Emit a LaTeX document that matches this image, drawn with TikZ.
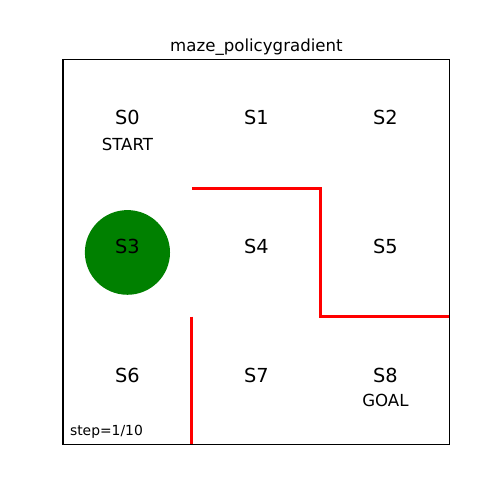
\documentclass[tikz,border=0pt]{standalone}
\usepackage{fontspec}
\setmainfont{DejaVu Sans}
\definecolor{mplgreen}{rgb}{0,0.5,0}
\begin{document}
\begin{tikzpicture}[x=2.58cm, y=2.567cm, line join=round, line cap=round]
	\tikzset{every node/.style={inner sep=0pt, outer sep=0pt},
		statelbl/.style={font=\fontsize{11}{13}\selectfont},
		sublbl/.style={font=\fontsize{9.45}{11}\selectfont},
		wall/.style={red, line width=1.7pt, line cap=butt, line join=miter}}
	\def\xmin{-0.488}\def\xmax{3.388}\def\ymin{-0.429}\def\ymax{3.467}
	\useasboundingbox (\xmin,\ymin) rectangle (\xmax,\ymax);
	% agent position
	\fill[mplgreen] (0.5,1.5) circle (0.33);
	% state labels
	\foreach \i/\x/\y in {0/0.5/2.55, 1/1.5/2.55, 2/2.5/2.55, 3/0.5/1.545, 4/1.5/1.545, 5/2.5/1.545, 6/0.5/0.545, 7/1.5/0.545, 8/2.5/0.545}
		\node[statelbl] (s\i) at (\x,\y) {S\i};
	\node[sublbl] (start) at (0.5,2.34) {START};
	\node[sublbl] (goal) at (2.5,0.35) {GOAL};
	% walls
	\coordinate (wa) at (1,2); \coordinate (wb) at (2,2);
	\coordinate (wc) at (2,1); \coordinate (wd) at (3,1);
	\coordinate (we) at (1,1); \coordinate (wf) at (1,0);
	\draw[wall] (wa)--(wb)--(wc)--(wd);
	\draw[wall] (we)--(wf);
	% frame
	\draw[line width=0.63pt, line join=miter] (0,0) rectangle (3,3);
	\node[sublbl] (title) at (1.5,3.10) {maze\_policygradient};
	\node[anchor=west, font=\fontsize{7.9}{9}\selectfont] (stepcount) at (0.055,0.1) {step=1/10};
\end{tikzpicture}
\end{document}
